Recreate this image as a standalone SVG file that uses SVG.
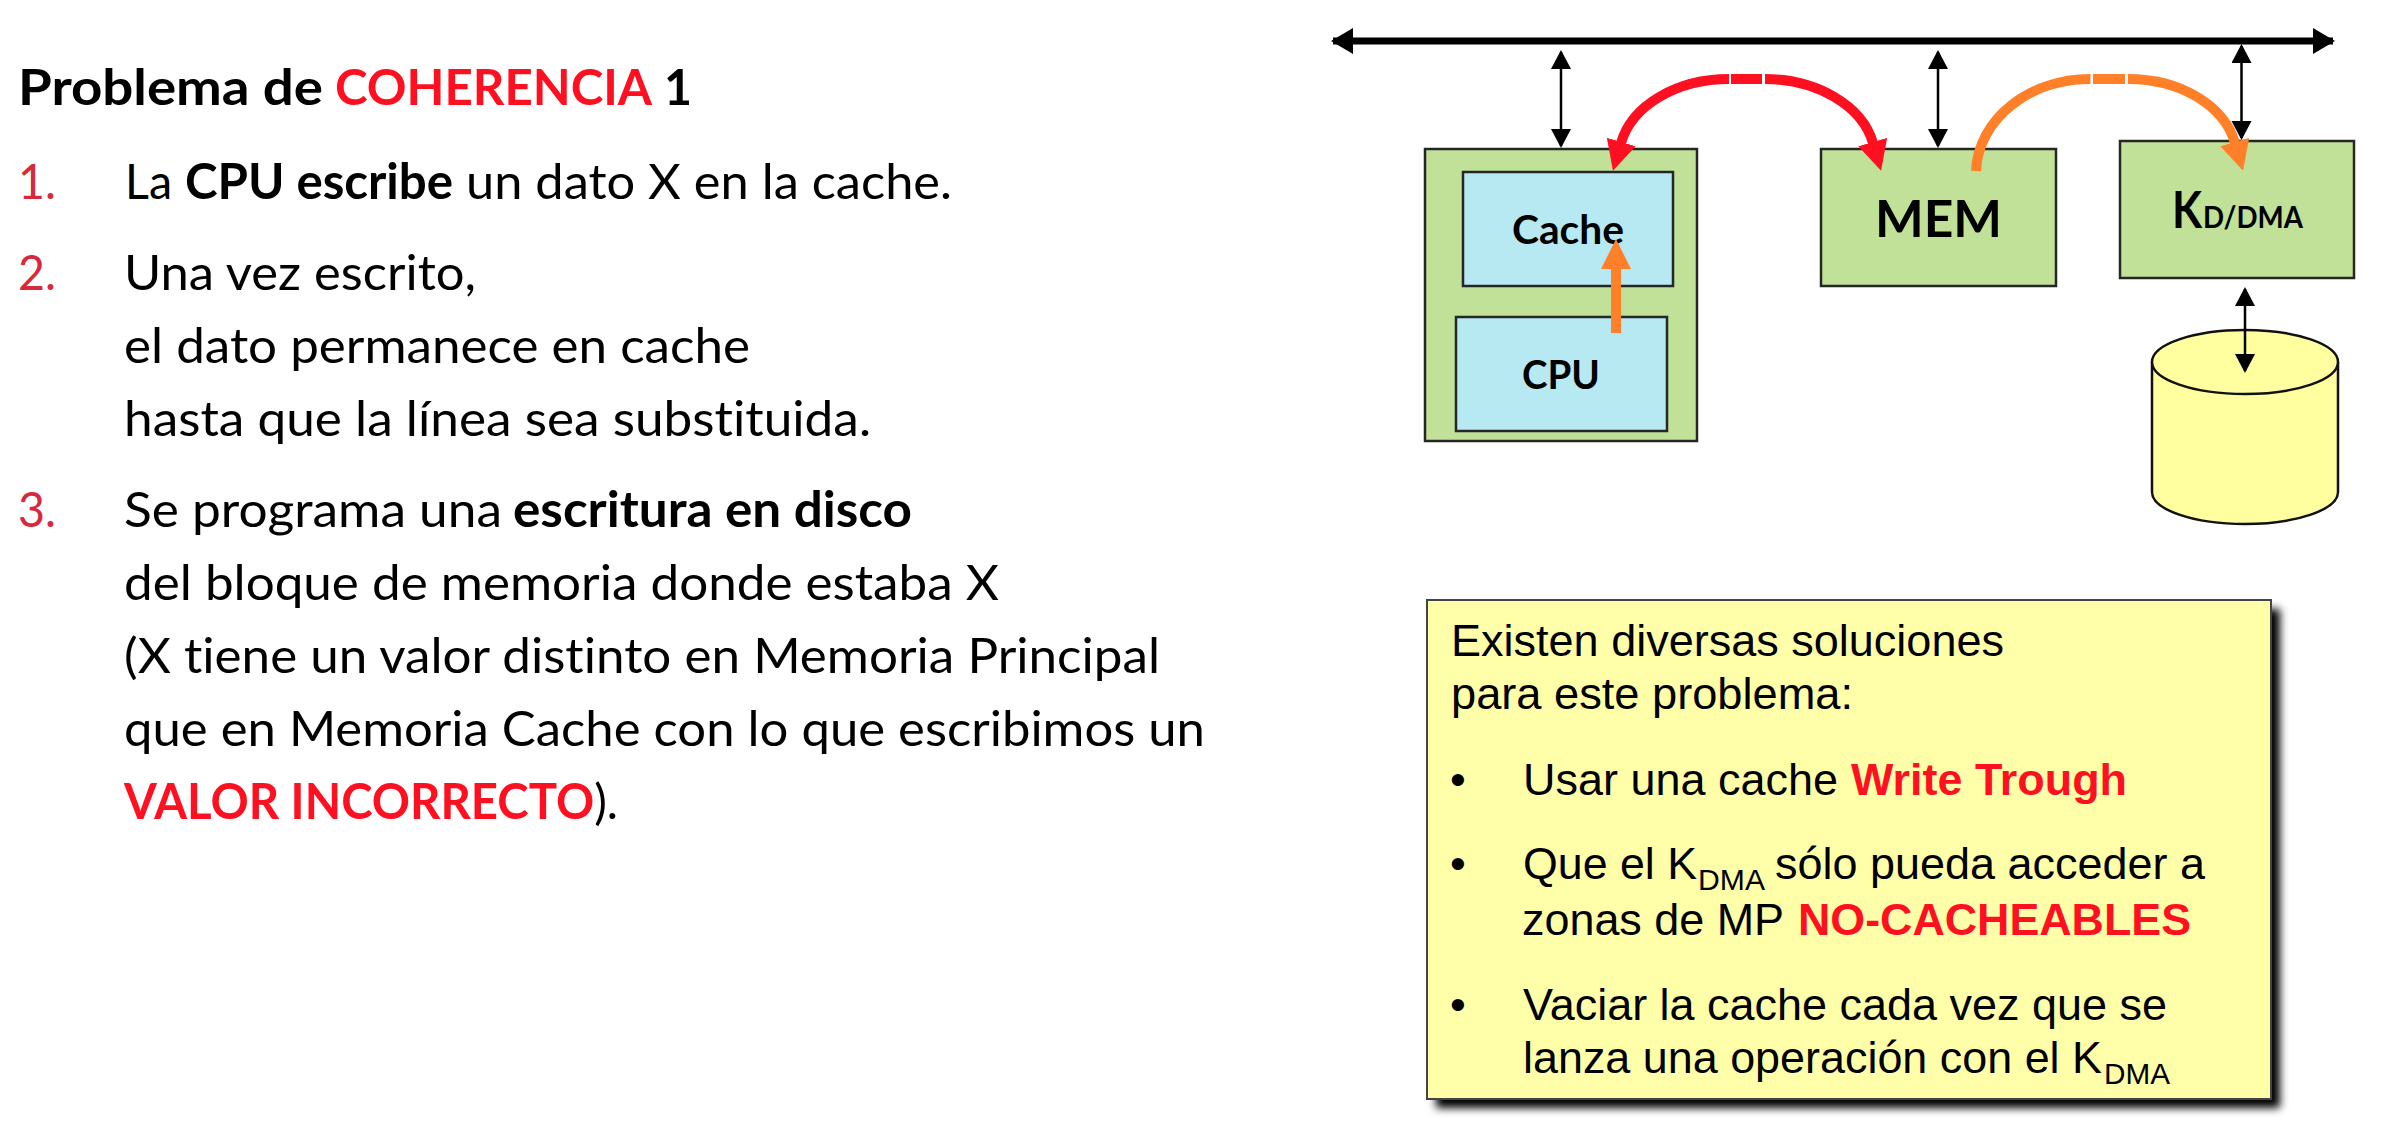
<svg xmlns="http://www.w3.org/2000/svg" width="2384" height="1140" viewBox="0 0 2384 1140">
<style>
text{font-family:"Lato","Carlito","Liberation Sans",sans-serif;fill:#000;font-variant-ligatures:none}
.b{font-weight:700}
.l{font-size:49px}
.r{fill:#ff1020}
.n{fill:#d9283c}
.a{font-family:"Liberation Sans",Arial,sans-serif;font-size:45px}
.sub{font-size:30px}
.box{stroke:#262626;stroke-width:2.5}
.g{fill:#c1e199}
.c{fill:#b7e9f2}
.thin{stroke:#000;stroke-width:2.5;fill:none;marker-start:url(#ah);marker-end:url(#ah)}
.fat{fill:none;stroke-width:10}
</style>
<defs>
<marker id="ah" markerUnits="userSpaceOnUse" markerWidth="24" markerHeight="24" refX="17" refY="10" orient="auto-start-reverse"><path d="M0,0L19,10L0,20z" fill="#000"/></marker>
<marker id="bh" markerUnits="userSpaceOnUse" markerWidth="26" markerHeight="28" refX="20" refY="13" orient="auto-start-reverse"><path d="M0,0L22,13L0,26z" fill="#000"/></marker>
<marker id="rh" markerUnits="userSpaceOnUse" markerWidth="34" markerHeight="32" refX="1" refY="15" orient="auto"><path d="M0,0L30,15L0,30z" fill="#ff1020"/></marker>
<marker id="oh" markerUnits="userSpaceOnUse" markerWidth="34" markerHeight="32" refX="1" refY="15" orient="auto"><path d="M0,0L30,15L0,30z" fill="#ff8029"/></marker>
<filter id="sh" x="-5%" y="-5%" width="110%" height="110%"><feGaussianBlur stdDeviation="4"/></filter>
</defs>

<g id="title">
<text class="l b" lengthAdjust="spacingAndGlyphs" x="18" y="105" textLength="305">Problema de</text>
<text class="l b r" lengthAdjust="spacingAndGlyphs" x="335" y="105" textLength="317">COHERENCIA</text>
<text class="l b" lengthAdjust="spacingAndGlyphs" x="664" y="105" textLength="28">1</text>
</g>
<g id="steps">
<text class="l n" lengthAdjust="spacingAndGlyphs" x="18" y="199" textLength="38">1.</text>
<text class="l" lengthAdjust="spacingAndGlyphs" x="125" y="199" textLength="47">La</text>
<text class="l b" lengthAdjust="spacingAndGlyphs" x="185" y="199" textLength="268">CPU escribe</text>
<text class="l" lengthAdjust="spacingAndGlyphs" x="466" y="199" textLength="486">un dato X en la cache.</text>
<text class="l n" lengthAdjust="spacingAndGlyphs" x="18" y="290" textLength="38">2.</text>
<text class="l" lengthAdjust="spacingAndGlyphs" x="124" y="290" textLength="352">Una vez escrito,</text>
<text class="l" lengthAdjust="spacingAndGlyphs" x="124" y="363" textLength="626">el dato permanece en cache</text>
<text class="l" lengthAdjust="spacingAndGlyphs" x="124" y="436" textLength="747">hasta que la línea sea substituida.</text>
<text class="l n" lengthAdjust="spacingAndGlyphs" x="18" y="527" textLength="38">3.</text>
<text class="l" lengthAdjust="spacingAndGlyphs" x="124" y="527" textLength="378">Se programa una</text>
<text class="l b" lengthAdjust="spacingAndGlyphs" x="513" y="527" textLength="399">escritura en disco</text>
<text class="l" lengthAdjust="spacingAndGlyphs" x="124" y="600" textLength="875">del bloque de memoria donde estaba X</text>
<text class="l" lengthAdjust="spacingAndGlyphs" x="124" y="673" textLength="1036">(X tiene un valor distinto en Memoria Principal</text>
<text class="l" lengthAdjust="spacingAndGlyphs" x="124" y="746" textLength="1081">que en Memoria Cache con lo que escribimos un</text>
<text class="l" lengthAdjust="spacingAndGlyphs" x="124" y="819" textLength="494"><tspan class="b r">VALOR INCORRECTO</tspan>).</text>
</g>

<g id="cpu-module"><rect class="box g" x="1425" y="149" width="272" height="292"/></g>
<g id="cache"><rect class="box c" x="1463" y="172" width="210" height="114"/><text class="b" lengthAdjust="spacingAndGlyphs" style="font-size:40px" x="1512" y="244" textLength="112">Cache</text></g>
<g id="cpu"><rect class="box c" x="1456" y="317" width="211" height="114"/><text class="b" lengthAdjust="spacingAndGlyphs" style="font-size:40px" x="1522" y="389" textLength="78">CPU</text></g>
<g id="mem"><rect class="box g" x="1821" y="149" width="235" height="137"/><text class="b" lengthAdjust="spacingAndGlyphs" style="font-size:52px" x="1875" y="237" textLength="127">MEM</text></g>
<g id="kd"><rect class="box g" x="2120" y="141" width="234" height="137"/><text class="b" lengthAdjust="spacingAndGlyphs" style="font-size:52px" x="2172" y="227.500" textLength="30">K</text><text class="b" lengthAdjust="spacingAndGlyphs" style="font-size:31px" x="2203" y="227.500" textLength="100">D/DMA</text></g>
<g id="disk"><path d="M2152,362V492A93,32 0 0 0 2338,492V362" fill="#ffff9f" stroke="#111" stroke-width="2.500"/><ellipse cx="2245" cy="362" rx="93" ry="32" fill="#ffff9f" stroke="#111" stroke-width="2.500"/></g>

<g id="connectors">
<line x1="1333" y1="41" x2="2333" y2="41" stroke="#000" stroke-width="7" marker-start="url(#bh)" marker-end="url(#bh)"/>
<line class="thin" x1="1561" y1="52" x2="1561" y2="146"/>
<line class="thin" x1="1938" y1="52" x2="1938" y2="146"/>
<line class="thin" x1="2241.500" y1="46" x2="2241.500" y2="138"/>
<line class="thin" x1="2245" y1="289" x2="2245" y2="371"/>
<path class="fat" stroke="#ff1020" marker-end="url(#rh)" d="M1729,79C1677,79 1632,105 1621,143"/>
<path class="fat" stroke="#ff1020" d="M1731,79H1762"/>
<path class="fat" stroke="#ff1020" marker-end="url(#rh)" d="M1765,79C1816,79 1862,105 1873,143"/>
<path class="fat" stroke="#ff8029" d="M1976,171C1978,120 2028,79 2090.500,79"/>
<path class="fat" stroke="#ff8029" d="M2093,79H2125"/>
<path class="fat" stroke="#ff8029" marker-end="url(#oh)" d="M2128,79C2180,79 2224,105 2235,143"/>
<line class="fat" stroke="#ff8029" marker-end="url(#oh)" x1="1616" y1="333" x2="1616" y2="268"/>
</g>

<g id="note">
<rect x="1436" y="609" width="844" height="499" fill="#000" filter="url(#sh)"/>
<rect x="1427" y="600" width="844" height="499" fill="#ffffaa" stroke="#444" stroke-width="2"/>
<text class="a" lengthAdjust="spacingAndGlyphs" x="1451" y="655.500" textLength="553">Existen diversas soluciones</text>
<text class="a" lengthAdjust="spacingAndGlyphs" x="1451" y="709" textLength="402">para este problema:</text>
<text class="a" x="1450" y="795">•</text>
<text class="a" lengthAdjust="spacingAndGlyphs" x="1523" y="795" textLength="315">Usar una cache</text>
<text class="a b r" lengthAdjust="spacingAndGlyphs" x="1851" y="795" textLength="276">Write Trough</text>
<text class="a" x="1450" y="879">•</text>
<text class="a" lengthAdjust="spacingAndGlyphs" x="1523" y="879" textLength="174">Que el K</text>
<text class="a sub" lengthAdjust="spacingAndGlyphs" x="1698" y="890" textLength="67">DMA</text>
<text class="a" lengthAdjust="spacingAndGlyphs" x="1775" y="879" textLength="430">sólo pueda acceder a</text>
<text class="a" lengthAdjust="spacingAndGlyphs" x="1522" y="935" textLength="262">zonas de MP</text>
<text class="a b r" lengthAdjust="spacingAndGlyphs" x="1798" y="935" textLength="393">NO-CACHEABLES</text>
<text class="a" x="1450" y="1020">•</text>
<text class="a" lengthAdjust="spacingAndGlyphs" x="1523" y="1020" textLength="644">Vaciar la cache cada vez que se</text>
<text class="a" lengthAdjust="spacingAndGlyphs" x="1523" y="1073" textLength="579">lanza una operación con el K</text>
<text class="a sub" lengthAdjust="spacingAndGlyphs" x="2104" y="1084" textLength="66">DMA</text>
</g>
</svg>
